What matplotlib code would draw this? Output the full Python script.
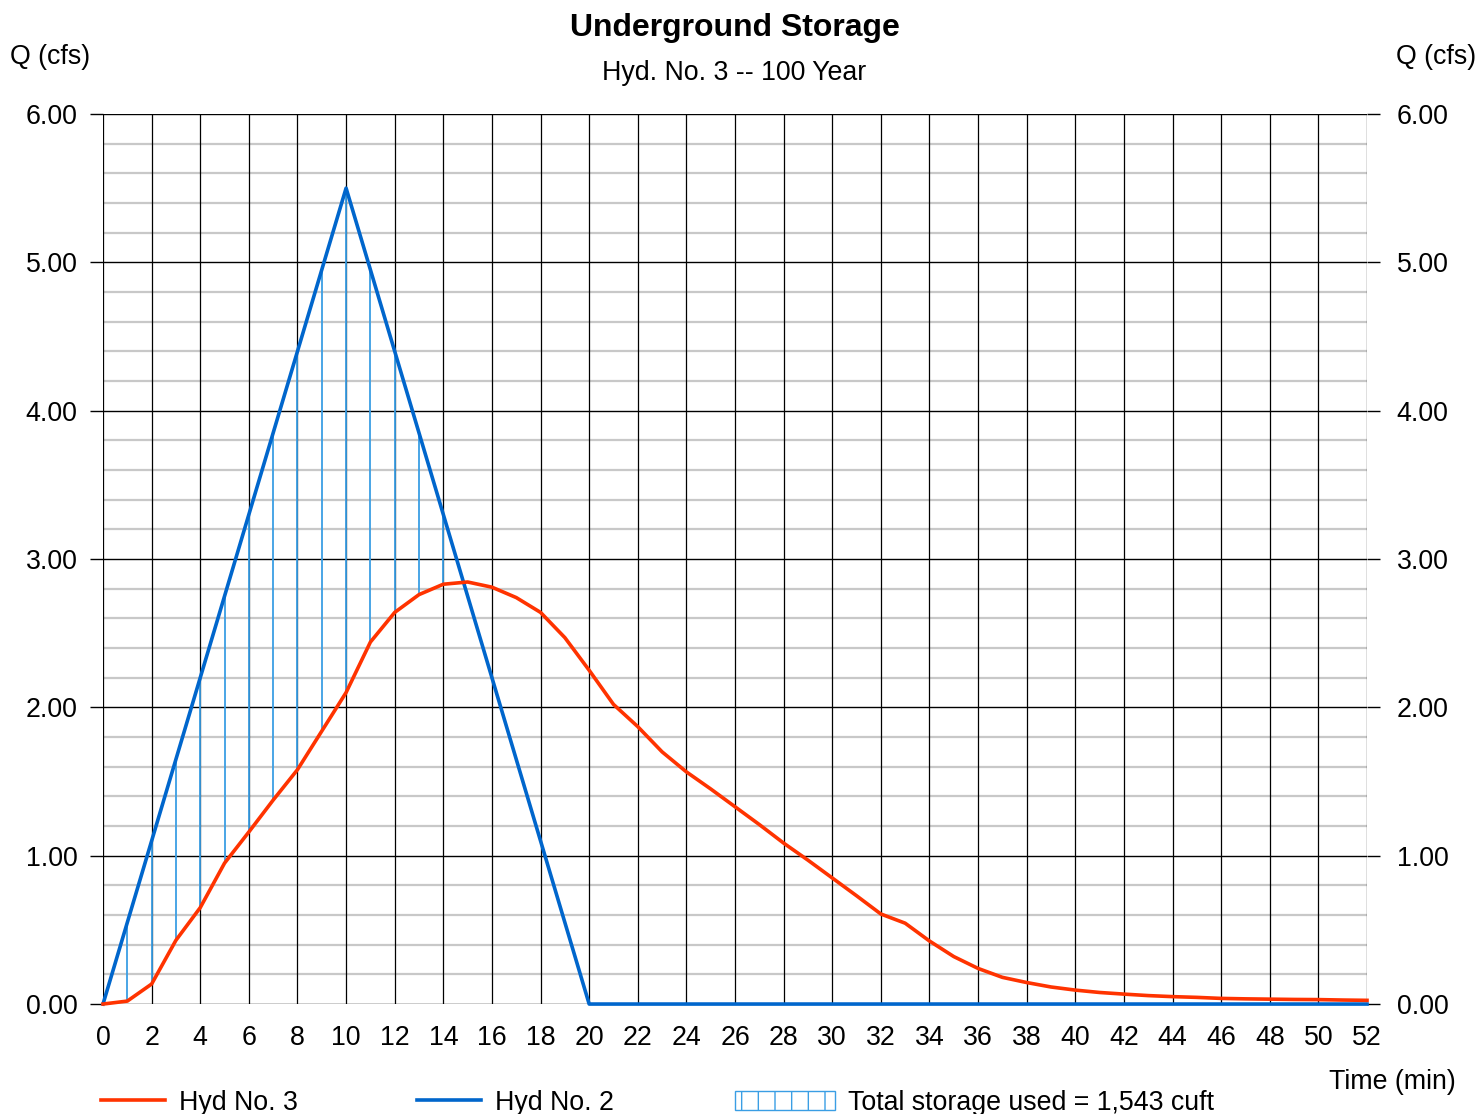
import matplotlib
matplotlib.use("Agg")
import matplotlib.pyplot as plt
import matplotlib.transforms as mtransforms
import numpy as np
from matplotlib.lines import Line2D
from matplotlib.patches import Patch

plt.rcParams['font.family'] = ['Liberation Sans', 'DejaVu Sans']
plt.rcParams['hatch.linewidth'] = 1.0

# 数据 (min, cfs)
t = list(range(0, 53))
# Hyd No. 2 : inflow triangle
hyd2 = [0.00, 0.55, 1.10, 1.65, 2.20, 2.75, 3.30, 3.85, 4.40, 4.95, 5.50,
        4.95, 4.40, 3.85, 3.30, 2.75, 2.20, 1.65, 1.10, 0.55, 0.00] + [0.0] * 32
# Hyd No. 3 : outflow
hyd3 = [0.00, 0.02, 0.135, 0.43, 0.65, 0.95, 1.16, 1.375, 1.58, 1.84, 2.10,
        2.44, 2.64, 2.76, 2.83, 2.845, 2.81, 2.74, 2.64, 2.47, 2.25,
        2.02, 1.87, 1.70, 1.565, 1.45, 1.33, 1.21, 1.085, 0.97, 0.85,
        0.73, 0.607, 0.545, 0.425, 0.32, 0.24, 0.18, 0.145, 0.115, 0.094,
        0.078, 0.067, 0.057, 0.05, 0.045, 0.038, 0.035, 0.033, 0.031, 0.03,
        0.027, 0.025]
y_ticks = [0, 1, 2, 3, 4, 5, 6]
x_ticks = list(range(0, 53, 2))

red = '#ff3300'
blue = '#0066cc'
hatch_blue = '#3a9ee4'
fs = 19.3

fig = plt.figure(figsize=(14.78, 11.14), dpi=100)
ax = fig.add_axes([0.0697, 0.0987, 0.8552, 0.799])

# 网格
for yy in np.arange(0.2, 6.0, 0.2):
    if abs(yy - round(yy)) > 1e-6:
        ax.axhline(yy, color='#c8c8c8', lw=1.6, zorder=1)
for yy in y_ticks:
    ax.axhline(yy, color='black', lw=1.0, zorder=2)
for xx in x_ticks:
    ax.axvline(xx, color='black', lw=0.9, zorder=2)

# 储量竖线
tt = np.array(t)
a2 = np.array(hyd2)
a3 = np.array(hyd3)
m = (a2 > a3) & (tt > 0)
ax.vlines(tt[m], a3[m], a2[m], color=hatch_blue, lw=1.3, zorder=3)

ax.plot(t, hyd3, color=red, lw=2.6, zorder=5, clip_on=False)
ax.plot(t, hyd2, color=blue, lw=2.6, zorder=4, clip_on=False)

ax.set_xlim(0, 52)
ax.set_ylim(0, 6)
ax.set_xticks(x_ticks)
ax.set_yticks(y_ticks)
ax.set_yticklabels(['%.2f' % v for v in y_ticks])
ax.tick_params(axis='x', length=0, pad=15, labelsize=fs)
ax.tick_params(axis='y', length=9.4, width=1, pad=9, labelsize=fs,
               right=True, labelright=True)
# 右侧标签稍微右移
off = mtransforms.ScaledTranslation(4 / 100, 0, fig.dpi_scale_trans)
for tk in ax.yaxis.get_major_ticks():
    tk.label2.set_transform(tk.label2.get_transform() + off)
for s in ax.spines.values():
    s.set_visible(False)

fig.text(0.497, 0.975, 'Underground Storage', ha='center', va='center',
         fontsize=23, fontweight='bold')
fig.text(0.497, 0.9345, 'Hyd. No. 3 -- 100 Year', ha='center', va='center',
         fontsize=fs)
fig.text(0.007, 0.9485, 'Q (cfs)', ha='left', va='center', fontsize=fs)
fig.text(0.999, 0.9485, 'Q (cfs)', ha='right', va='center', fontsize=fs)
fig.text(0.985, 0.029, 'Time (min)', ha='right', va='center', fontsize=fs)

# 图例
leg_items = [
    (Line2D([], [], color=red, lw=2.6), 'Hyd No. 3', 0.068, 2.4),
    (Line2D([], [], color=blue, lw=2.6), 'Hyd No. 2', 0.282, 2.4),
    (Patch(facecolor='white', edgecolor=hatch_blue, hatch='|', lw=1.0),
     'Total storage used = 1,543 cuft', 0.497, 3.73),
]
for h, lab, x0, hl in leg_items:
    fig.legend([h], [lab], loc='center left', bbox_to_anchor=(x0, 0.010),
               frameon=False, fontsize=fs, handlelength=hl,
               handleheight=0.75, handletextpad=0.52, borderaxespad=0,
               borderpad=0)

fig.savefig('out.png', dpi=100)
